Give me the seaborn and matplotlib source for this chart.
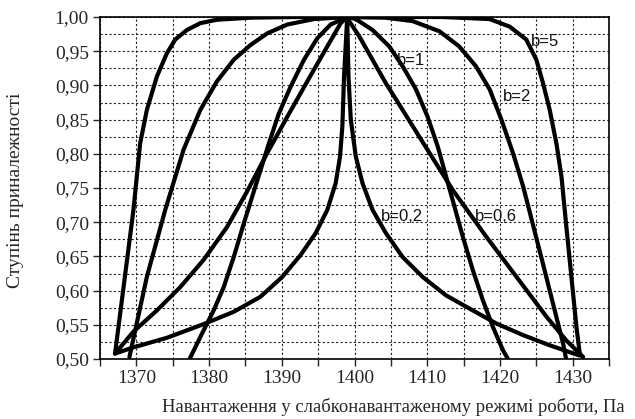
import numpy as np
import pandas as pd
import matplotlib
matplotlib.use("Agg")
import matplotlib.pyplot as plt
import seaborn as sns
from matplotlib.ticker import MultipleLocator, FuncFormatter

# ---- data ----
b5_x = [1367.07, 1369.60, 1370.52, 1371.44, 1372.82, 1374.20, 1375.34, 1376.95, 1378.79, 1381.09, 1385.69, 1392.0, 1399.0,
        1406.0, 1412.0, 1418.57, 1421.33, 1423.63, 1425.01, 1425.93, 1426.85, 1427.77, 1428.46, 1429.14, 1429.83, 1430.52, 1430.98]
b5_y = [0.508, 0.718, 0.815, 0.864, 0.913, 0.947, 0.967, 0.981, 0.991, 0.996, 0.999, 1.0, 1.0,
        1.0, 1.0, 0.997, 0.986, 0.967, 0.9375, 0.903, 0.864, 0.815, 0.767, 0.693, 0.620, 0.547, 0.508]

b2_x = [1369.05, 1371.44, 1373.97, 1376.49, 1378.79, 1381.09, 1383.39, 1385.69, 1387.99, 1390.75, 1394.43, 1399.0,
        1404.3, 1408.0, 1411.7, 1414.4, 1416.7, 1418.6, 1420.2, 1421.8, 1423.2, 1424.5, 1425.9, 1427.3, 1428.7, 1429.1]
b2_y = [0.503, 0.620, 0.718, 0.806, 0.864, 0.906, 0.9375, 0.959, 0.976, 0.989, 0.997, 1.0,
        0.999, 0.994, 0.979, 0.957, 0.928, 0.894, 0.850, 0.801, 0.752, 0.698, 0.640, 0.581, 0.522, 0.500]

b1_x = [1377.32, 1379.02, 1380.63, 1382.01, 1383.39, 1384.77, 1385.92, 1387.07, 1388.22, 1389.60, 1391.21, 1393.05,
        1394.89, 1396.72, 1399.0, 1400.18, 1402.48, 1404.78, 1406.62, 1408.46, 1410.06, 1411.44, 1412.59, 1413.74,
        1414.89, 1416.27, 1417.65, 1419.03, 1420.41, 1421.10]
b1_y = [0.500, 0.537, 0.571, 0.605, 0.649, 0.698, 0.737, 0.776, 0.815, 0.859, 0.898, 0.9375,
        0.969, 0.989, 1.0, 0.997, 0.981, 0.957, 0.928, 0.894, 0.854, 0.811, 0.767, 0.723,
        0.679, 0.630, 0.586, 0.547, 0.513, 0.500]

b06_x = [1367.07, 1369.60, 1372.82, 1376.03, 1379.25, 1382.47, 1385.23, 1387.99, 1390.75, 1393.51, 1396.26, 1398.10, 1399.0,
         1399.26, 1400.64, 1402.48, 1404.32, 1406.62, 1408.91, 1411.21, 1413.51, 1415.81, 1418.11, 1420.87, 1423.63,
         1426.39, 1429.14, 1431.44]
b06_y = [0.508, 0.540, 0.571, 0.605, 0.645, 0.693, 0.745, 0.801, 0.854, 0.906, 0.957, 0.991, 1.0,
         0.994, 0.972, 0.9375, 0.903, 0.864, 0.825, 0.786, 0.747, 0.713, 0.679, 0.640, 0.601,
         0.562, 0.527, 0.503]

b02_x = [1367.07, 1369.60, 1374.20, 1379.25, 1383.39, 1387.07, 1390.06, 1392.59, 1394.66, 1396.26, 1397.41, 1398.01,
         1398.33, 1398.56, 1399.0, 1399.17, 1399.49, 1400.18, 1401.10, 1402.48, 1404.32, 1406.62, 1409.37, 1412.59,
         1416.27, 1419.49, 1423.17, 1426.85, 1430.98]
b02_y = [0.508, 0.517, 0.531, 0.551, 0.569, 0.591, 0.620, 0.652, 0.684, 0.718, 0.757, 0.796,
         0.840, 0.913, 1.0, 0.913, 0.850, 0.796, 0.757, 0.718, 0.684, 0.649, 0.620, 0.593,
         0.571, 0.552, 0.535, 0.520, 0.505]

labels = ["b=5", "b=2", "b=1", "b=0,2", "b=0,6"]
label_x = [1424.3, 1420.4, 1405.9, 1403.6, 1416.5]
label_y = [0.964, 0.8835, 0.937, 0.708, 0.708]

x_label = "Навантаження у слабконавантаженому режимі роботи, Па"
y_label = "Ступінь приналежності"

# ---- drawing ----
sns.set_style("ticks")
plt.rcParams['font.family'] = ['Liberation Serif', 'DejaVu Serif']

fig = plt.figure(figsize=(6.35, 4.19), dpi=100)
ax = fig.add_axes([100/635, 1-359/419, (609-100)/635, (359-17)/419])

series = [(b5_x, b5_y), (b2_x, b2_y), (b1_x, b1_y), (b06_x, b06_y), (b02_x, b02_y)]
for xs, ys in series:
    df = pd.DataFrame({"x": xs, "y": ys})
    sns.lineplot(data=df, x="x", y="y", ax=ax, sort=False, estimator=None,
                 color="black", linewidth=3.0, solid_capstyle="round")

for t, lx, ly in zip(labels, label_x, label_y):
    ax.text(lx, ly, t, ha="left", va="center", fontsize=12,
            family=["Liberation Sans", "DejaVu Sans"], color="#111111")

ax.set_xlim(1365, 1435)
ax.set_ylim(0.5, 1.0)
ax.xaxis.set_major_locator(MultipleLocator(10))
ax.xaxis.set_minor_locator(MultipleLocator(5))
ax.yaxis.set_major_locator(MultipleLocator(0.05))
ax.yaxis.set_minor_locator(MultipleLocator(0.025))
ax.yaxis.set_major_formatter(FuncFormatter(lambda v, p: f"{v:.2f}".replace(".", ",")))
ax.xaxis.set_major_formatter(FuncFormatter(lambda v, p: f"{v:.0f}"))

ax.grid(True, which="both", color="#222222", linestyle=(0, (2, 2)), linewidth=0.8)
ax.tick_params(axis="both", which="major", direction="out", length=5, width=1, labelsize=14, pad=3)
ax.tick_params(axis="x", which="minor", direction="out", length=5, width=1)
ax.tick_params(axis="y", which="minor", length=0)
for s in ax.spines.values():
    s.set_visible(True)
    s.set_linewidth(1.2)
    s.set_color("black")

ax.set_xlabel("")
ax.set_ylabel("")
fig.text(393/635, 1-407/419, x_label, ha="center", va="center", fontsize=13.4)
fig.text(16/635, 1-190/419, y_label, ha="center", va="center", rotation=90, fontsize=14)

fig.savefig("out.png", dpi=100)
